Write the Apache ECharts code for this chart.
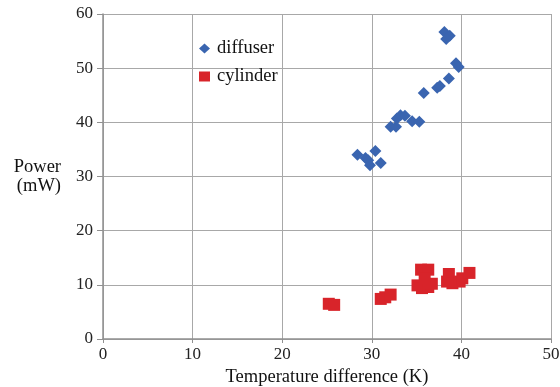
<!DOCTYPE html>
<html><head><meta charset="utf-8">
<script src="https://cdn.jsdelivr.net/npm/echarts@6/dist/echarts.min.js"></script>
<style>html,body{margin:0;padding:0;background:#fff}#c{width:560px;height:387px}</style>
</head><body><div id="c"></div>
<script>
const diffuserX = [28.4, 29.3, 29.8, 30.4, 31.0, 29.6, 32.1, 32.7, 32.8, 33.2, 33.7, 34.5, 35.3, 35.8, 37.3, 37.6, 38.6, 39.4, 39.7, 38.1, 38.7, 38.3];
const diffuserY = [34.0, 33.4, 32.1, 34.7, 32.5, 33.0, 39.2, 39.2, 40.7, 41.3, 41.2, 40.2, 40.1, 45.4, 46.4, 46.7, 48.1, 50.9, 50.2, 56.7, 56.0, 55.4];
const cylinderX = [25.2, 25.8, 31.0, 31.5, 32.1, 35.1, 35.5, 36.3, 35.6, 36.3, 36.7, 35.9, 38.4, 38.6, 39.0, 39.8, 40.1, 40.9];
const cylinderY = [6.5, 6.3, 7.4, 7.7, 8.2, 9.9, 12.8, 12.8, 9.4, 9.6, 10.2, 11.2, 10.6, 12.0, 10.3, 10.6, 11.2, 12.2];
const xTicks = {min: 0, max: 50, interval: 10};
const yTicks = {min: 0, max: 60, interval: 10};

const font = 'Liberation Serif';
const chart = echarts.init(document.getElementById('c'));
chart.setOption({
  animation: false,
  backgroundColor: '#fff',
  grid: {left: 103, right: 9, top: 14, bottom: 48, containLabel: false, outerBoundsMode: 'none'},
  legend: {
    orient: 'vertical', left: 194, top: 34, itemGap: 9, itemWidth: 11, itemHeight: 10,
    textStyle: {fontFamily: font, fontSize: 18.5, color: '#111', padding: [0, 0, 0, 2]},
    data: [{name: 'diffuser', icon: 'diamond'}, {name: 'cylinder', icon: 'rect'}]
  },
  xAxis: {
    type: 'value', min: xTicks.min, max: xTicks.max, interval: xTicks.interval,
    name: 'Temperature difference (K)', nameLocation: 'middle', nameGap: 29,
    nameTextStyle: {fontFamily: font, fontSize: 18.5, color: '#111'},
    axisLine: {lineStyle: {color: '#909090', width: 1.5}},
    axisTick: {show: true, length: 4, lineStyle: {color: '#909090'}},
    axisLabel: {fontFamily: font, fontSize: 17, color: '#222', margin: 7},
    splitLine: {show: true, lineStyle: {color: '#a8a8a8', width: 1}}
  },
  yAxis: {
    type: 'value', min: yTicks.min, max: yTicks.max, interval: yTicks.interval,
    name: 'Power\n(mW)', nameLocation: 'middle', nameGap: 42, nameRotate: 0,
    nameTextStyle: {fontFamily: font, fontSize: 18.5, color: '#111', lineHeight: 19, align: 'right'},
    axisLine: {show: true, lineStyle: {color: '#909090', width: 1.5}},
    axisTick: {show: true, length: 6, lineStyle: {color: '#909090'}},
    axisLabel: {fontFamily: font, fontSize: 17, color: '#222', margin: 10},
    splitLine: {show: true, lineStyle: {color: '#a8a8a8', width: 1}}
  },
  series: [
    {name: 'diffuser', type: 'scatter', symbol: 'diamond', symbolSize: 12,
     itemStyle: {color: '#3a65b0', opacity: 1},
     data: diffuserX.map((x, i) => [x, diffuserY[i]])},
    {name: 'cylinder', type: 'scatter', symbol: 'rect', symbolSize: 12,
     itemStyle: {color: '#d8242a', opacity: 1},
     data: cylinderX.map((x, i) => [x, cylinderY[i]])}
  ]
});
</script></body></html>
